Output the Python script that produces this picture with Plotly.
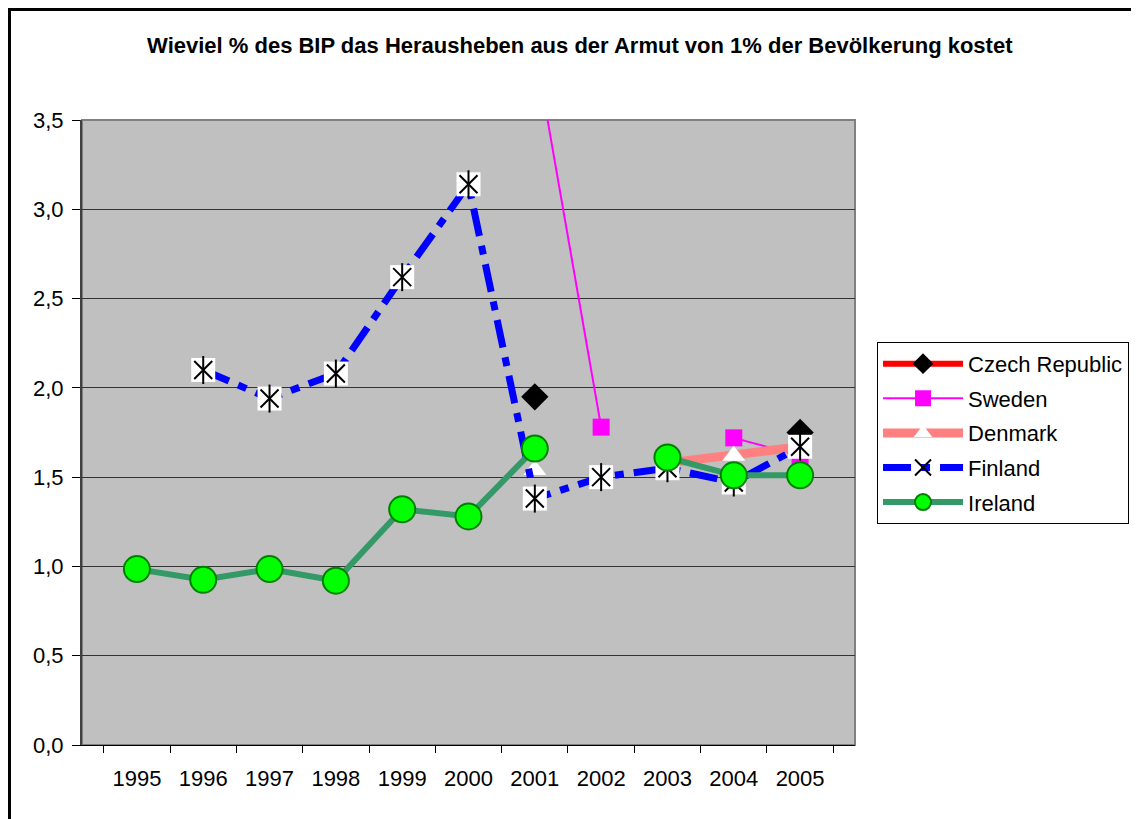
import plotly.graph_objects as go

years = ["1995", "1996", "1997", "1998", "1999", "2000", "2001", "2002", "2003", "2004", "2005"]

czech = [None, None, None, None, None, None, 1.95, None, None, None, 1.75]
sweden = [None, None, None, None, None, None, 3.91, 1.78, None, 1.72, 1.62]
denmark = [None, None, None, None, None, None, 1.54, None, 1.58, 1.62, 1.67]
finland = [None, 2.10, 1.94, 2.08, 2.62, 3.14, 1.38, 1.50, 1.55, 1.47, 1.67]
ireland = [0.985, 0.925, 0.985, 0.92, 1.32, 1.28, 1.66, None, 1.61, 1.51, 1.51]

y_ticks = [0.0, 0.5, 1.0, 1.5, 2.0, 2.5, 3.0, 3.5]
title_text = "Wieviel % des BIP das Herausheben aus der Armut von 1% der Bevölkerung kostet"

FONT = "Liberation Sans, Arial, sans-serif"
FS = 22

fig = go.Figure()

fig.add_trace(go.Scatter(
    x=years, y=czech, name="Czech Republic", mode="lines+markers", legendgroup="g1",
    line=dict(color="#FF0000", width=6),
    marker=dict(symbol="diamond", size=21, color="#000000"),
    connectgaps=False,
))
fig.add_trace(go.Scatter(
    x=years, y=sweden, name="Sweden", mode="lines+markers", legendgroup="g2",
    line=dict(color="#FF00FF", width=2),
    marker=dict(symbol="square", size=17, color="#FF00FF"),
    connectgaps=False,
))
fig.add_trace(go.Scatter(
    x=years, y=denmark, name="Denmark", mode="lines+markers", legendgroup="g3",
    line=dict(color="#FF8080", width=9),
    marker=dict(symbol="triangle-up", size=20, color="#FFFFFF"),
    connectgaps=False,
))
fig.add_trace(go.Scatter(
    x=years, y=finland, name="Finland", mode="lines+markers", legendgroup="g4",
    line=dict(color="#0000FF", width=7, dash="28px,10px,9px,10px"),
    marker=dict(symbol="x-thin-open", size=18, color="#000000", line=dict(color="#000000", width=2)),
    connectgaps=False,
))
fig.add_trace(go.Scatter(
    x=years, y=finland, mode="markers", showlegend=False, hoverinfo="skip", legendgroup="g4",
    marker=dict(symbol="square", size=24, color="#FFFFFF"),
))
fig.add_trace(go.Scatter(
    x=years, y=finland, mode="markers", showlegend=False, hoverinfo="skip", legendgroup="g4",
    marker=dict(symbol="x-thin-open", size=18, color="#000000", line=dict(color="#000000", width=2)),
))
fig.add_trace(go.Scatter(
    x=years, y=finland, mode="markers", showlegend=False, hoverinfo="skip", legendgroup="g4",
    marker=dict(symbol="line-ns-open", size=20, color="#000000", line=dict(color="#000000", width=2)),
))
fig.add_trace(go.Scatter(
    x=years, y=ireland, name="Ireland", mode="lines+markers", legendgroup="g5",
    line=dict(color="#339966", width=6),
    marker=dict(symbol="circle", size=26, color="#00FF00", line=dict(color="#008000", width=2)),
    connectgaps=False,
))

fig.update_layout(
    width=1139, height=819,
    margin=dict(l=74, r=292, t=112, b=82),
    paper_bgcolor="#FFFFFF",
    plot_bgcolor="#C0C0C0",
    separators=",.",
    font=dict(family=FONT, size=FS, color="#000000"),
    title=dict(text="<b>" + title_text + "</b>", x=0.502, xanchor="center", y=0.955, yanchor="middle",
               font=dict(family=FONT, size=FS, color="#000000")),
    showlegend=True,
    legend=dict(x=1.0285, xanchor="left", y=0.645, yanchor="top",
                bgcolor="#FFFFFF", bordercolor="#000000", borderwidth=1,
                font=dict(family=FONT, size=FS, color="#000000"),
                itemwidth=80, tracegroupgap=3),
    shapes=[dict(type="rect", xref="paper", yref="paper",
                 x0=-0.0938, x1=1.40, y0=-0.25, y1=1.1768,
                 line=dict(color="#000000", width=3), fillcolor="rgba(0,0,0,0)", layer="above")],
)

fig.update_xaxes(
    type="category", tickson="boundaries", ticks="outside", ticklen=7, tickcolor="#000000",
    showline=True, linecolor="#000000", linewidth=1, mirror=False,
    showgrid=False, tickfont=dict(size=FS), ticklabelstandoff=14,
)
fig.update_yaxes(
    range=[0, 3.5], tickvals=y_ticks, tickformat=".1f", ticks="outside", ticklen=8, tickcolor="#000000",
    showline=True, linecolor="#404040", linewidth=2, mirror=False, ticklabelstandoff=4,
    showgrid=True, gridcolor="#333333", gridwidth=1, zeroline=False, tickfont=dict(size=FS),
)

# grey border for plot area (top/right)
fig.add_shape(type="rect", xref="paper", yref="paper", x0=0, x1=1, y0=0, y1=1,
              line=dict(color="#808080", width=2), fillcolor="rgba(0,0,0,0)", layer="below")

fig.write_html("out.html")
